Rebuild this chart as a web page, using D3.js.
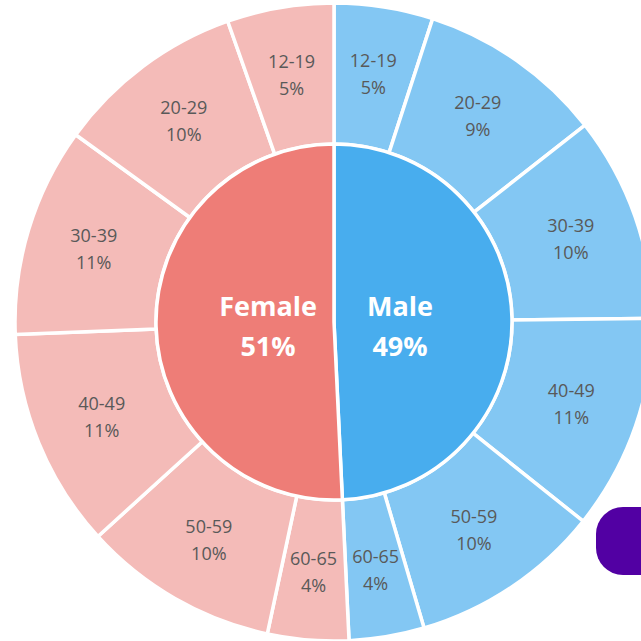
<!DOCTYPE html>
<html>
<head>
<meta charset="utf-8">
<script src="https://cdn.jsdelivr.net/npm/d3@7"></script>
<style>
  body { margin: 0; background: #fff; }
  svg { display: block; }
</style>
</head>
<body>
<script>
// age groups, clockwise from the top: male side first, then female side back up
var ageGroups = ["12-19", "20-29", "30-39", "40-49", "50-59", "60-65"];
var maleShare = [5.0, 9.4, 10.4, 10.9, 9.7, 3.8];
var femaleShare = [5.4, 9.6, 10.6, 11.1, 9.9, 4.1];
var genders = ["Male", "Female"];

var width = 641, height = 641,
  cx = 334, cy = 322,
  innerR = 178, outerR = 319;

var colors = {
  Male: { inner: "#48adee", outer: "#83c7f3" },
  Female: { inner: "#ee7d77", outer: "#f4bbb8" }
};

var total = d3.sum(maleShare) + d3.sum(femaleShare);

var innerData = [
  { gender: "Male", value: d3.sum(maleShare) },
  { gender: "Female", value: d3.sum(femaleShare) }
];

var outerData = ageGroups.map(function(a, i) {
  return { gender: "Male", age: a, value: maleShare[i] };
}).concat(ageGroups.map(function(a, i) {
  return { gender: "Female", age: a, value: femaleShare[i] };
}).reverse());

var pie = d3.pie()
  .sort(null)
  .value(function(d) { return d.value; })
  .startAngle(0)
  .endAngle(2 * Math.PI);

var svg = d3.select("body")
  .append("svg")
  .attr("width", width)
  .attr("height", height);

var g = svg.append("g")
  .attr("transform", "translate(" + cx + "," + cy + ")");

var innerArc = d3.arc().innerRadius(0).outerRadius(innerR);
var outerArc = d3.arc().innerRadius(innerR).outerRadius(outerR);
var outerLabelArc = d3.arc().innerRadius(184).outerRadius(318);

// outer ring
g.append("g").selectAll("path")
  .data(pie(outerData))
  .enter()
  .append("path")
  .attr("d", outerArc)
  .attr("fill", function(d) { return colors[d.data.gender].outer; })
  .attr("stroke", "#fff")
  .attr("stroke-width", 3.5);

// inner pie
g.append("g").selectAll("path")
  .data(pie(innerData))
  .enter()
  .append("path")
  .attr("d", innerArc)
  .attr("fill", function(d) { return colors[d.data.gender].inner; })
  .attr("stroke", "#fff")
  .attr("stroke-width", 3.5);

function pct(v) {
  return Math.round(v / total * 100) + "%";
}

// outer labels
var ol = g.append("g").selectAll("text")
  .data(pie(outerData))
  .enter()
  .append("text")
  .attr("transform", function(d) {
    var c = outerLabelArc.centroid(d);
    return "translate(" + c[0] + "," + c[1] + ")";
  })
  .attr("text-anchor", "middle")
  .style("font-family", "'Open Sans', sans-serif")
  .style("font-size", "18px")
  .attr("fill", "#595959");

ol.append("tspan").attr("x", 0).attr("y", -7).text(function(d) { return d.data.age; });
ol.append("tspan").attr("x", 0).attr("y", 20).text(function(d) { return pct(d.data.value); });

// inner labels, kept on one level across both halves
var labelArc = d3.arc().innerRadius(66).outerRadius(66);
var il = g.append("g").selectAll("text")
  .data(pie(innerData))
  .enter()
  .append("text")
  .attr("transform", function(d) {
    var c = labelArc.centroid(d);
    return "translate(" + c[0] + ",0)";
  })
  .attr("text-anchor", "middle")
  .style("font-family", "'Open Sans', sans-serif")
  .style("font-size", "27px")
  .style("font-weight", "bold")
  .attr("fill", "#fff");

il.append("tspan").attr("x", 0).attr("y", -6).text(function(d) { return d.data.gender; });
il.append("tspan").attr("x", 0).attr("y", 34).text(function(d) { return pct(d.data.value); });

// purple marker peeking in from the right edge
svg.append("rect")
  .attr("x", 596)
  .attr("y", 507)
  .attr("width", 90)
  .attr("height", 68)
  .attr("rx", 27)
  .attr("fill", "#5200a3");
</script>
</body>
</html>
